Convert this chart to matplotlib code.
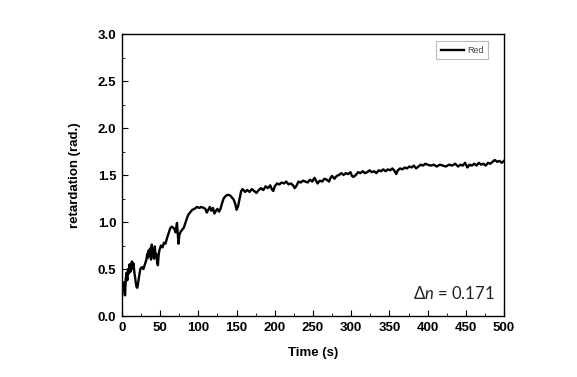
import matplotlib
matplotlib.use('Agg')
import matplotlib.pyplot as plt
from matplotlib.ticker import MultipleLocator

# retardation vs time
time_s = [0, 1, 2, 3, 4, 5, 6, 7, 8, 9, 10, 11, 12, 13, 14, 15, 16, 17, 18, 19,
          20, 21, 22, 24, 26, 28, 30, 32, 33, 34, 35, 36, 37, 38, 39, 40, 41, 42, 43, 44,
          45, 46, 47, 48, 49, 51, 53, 55, 57, 59, 61, 63, 65, 67, 69, 70, 71, 72, 73, 74,
          75, 77, 79, 81, 83, 85, 87, 89, 92, 95, 98, 101, 104, 107, 109, 111, 113, 115, 117, 119,
          121, 123, 125, 127, 129, 131, 133, 136, 139, 142, 144, 146, 148, 150, 152, 154, 156, 158, 161, 164,
          167, 170, 173, 176, 179, 182, 185, 188, 191, 194, 196, 198, 200, 203, 206, 209, 212, 215, 218, 221,
          224, 226, 228, 231, 234, 237, 240, 243, 246, 249, 252, 254, 256, 259, 262, 265, 268, 271, 273, 275,
          278, 281, 284, 287, 290, 293, 296, 299, 301, 303, 306, 309, 312, 315, 318, 321, 324, 327, 330, 333,
          336, 339, 342, 345, 348, 351, 354, 357, 359, 361, 364, 367, 370, 373, 376, 379, 382, 385, 388, 391,
          394, 397, 400, 404, 408, 412, 416, 420, 424, 428, 432, 436, 440, 443, 446, 449, 452, 455, 458, 461,
          464, 467, 470, 473, 476, 479, 482, 485, 488, 491, 494, 497, 500]
retard = [0.22, 0.33, 0.28, 0.36, 0.22, 0.40, 0.46, 0.38, 0.50, 0.45, 0.55, 0.47, 0.52, 0.58, 0.50, 0.56, 0.48, 0.42, 0.36, 0.31,
          0.30, 0.34, 0.40, 0.50, 0.52, 0.50, 0.55, 0.60, 0.66, 0.62, 0.70, 0.64, 0.72, 0.60, 0.76, 0.63, 0.70, 0.61, 0.74, 0.64,
          0.66, 0.57, 0.54, 0.65, 0.70, 0.75, 0.73, 0.78, 0.77, 0.83, 0.88, 0.93, 0.95, 0.94, 0.92, 0.89, 0.94, 0.99, 0.88, 0.77,
          0.86, 0.90, 0.92, 0.94, 0.99, 1.04, 1.08, 1.10, 1.13, 1.14, 1.16, 1.15, 1.16, 1.15, 1.14, 1.10, 1.13, 1.16, 1.12, 1.15,
          1.09, 1.12, 1.14, 1.11, 1.14, 1.20, 1.25, 1.28, 1.29, 1.28, 1.26, 1.24, 1.20, 1.13, 1.17, 1.25, 1.33, 1.35, 1.32, 1.34,
          1.32, 1.35, 1.33, 1.31, 1.34, 1.36, 1.34, 1.38, 1.36, 1.39, 1.35, 1.33, 1.38, 1.41, 1.40, 1.42, 1.41, 1.43, 1.40, 1.41,
          1.39, 1.36, 1.38, 1.43, 1.42, 1.44, 1.43, 1.42, 1.45, 1.43, 1.47, 1.44, 1.41, 1.44, 1.43, 1.46, 1.45, 1.43, 1.47, 1.49,
          1.46, 1.49, 1.50, 1.52, 1.50, 1.52, 1.51, 1.53, 1.49, 1.48, 1.50, 1.53, 1.52, 1.54, 1.52, 1.53, 1.55, 1.53, 1.54, 1.52,
          1.55, 1.54, 1.56, 1.54, 1.56, 1.55, 1.57, 1.54, 1.51, 1.55, 1.57, 1.56, 1.58, 1.57, 1.59, 1.58, 1.60, 1.57, 1.59, 1.61,
          1.60, 1.62, 1.61, 1.60, 1.61, 1.59, 1.61, 1.60, 1.59, 1.61, 1.60, 1.62, 1.59, 1.61, 1.60, 1.63, 1.58, 1.61, 1.60, 1.62,
          1.60, 1.63, 1.61, 1.62, 1.60, 1.63, 1.62, 1.64, 1.66, 1.64, 1.65, 1.63, 1.65]

plt.rcParams['font.family'] = ['Liberation Sans', 'DejaVu Sans']
plt.rcParams['mathtext.fontset'] = 'custom'
plt.rcParams['mathtext.rm'] = 'Lato'
plt.rcParams['mathtext.it'] = 'Lato:italic'

fig = plt.figure(figsize=(5.77, 3.77), dpi=100)
ax = fig.add_axes([0.2114, 0.1618, 0.6621, 0.748])

ax.plot(time_s, retard, color='black', lw=1.7, label='Red')

ax.set_xlim(0, 500)
ax.set_ylim(0, 3.0)
ax.xaxis.set_major_locator(MultipleLocator(50))
ax.xaxis.set_minor_locator(MultipleLocator(25))
ax.yaxis.set_minor_locator(MultipleLocator(0.25))
ax.set_yticks([0, 0.5, 1.0, 1.5, 2.0, 2.5, 3.0])
ax.set_yticklabels(['0.0', '0.5', '1.0', '1.5', '2.0', '2.5', '3.0'])
ax.tick_params(which='both', direction='in', top=False, right=False)
ax.tick_params(which='major', length=4, labelsize=9.5, pad=4)
ax.tick_params(which='minor', length=2)
for lab in ax.get_xticklabels() + ax.get_yticklabels():
    lab.set_fontweight('bold')
for s in ax.spines.values():
    s.set_linewidth(1.0)

ax.set_xlabel('Time (s)', fontsize=9.5, fontweight='bold', labelpad=10)
ax.set_ylabel('retardation (rad.)', fontsize=9.5, fontweight='bold', labelpad=12)

leg = ax.legend(loc='upper right', fontsize=6.5, handlelength=2.6, frameon=True,
                fancybox=False, borderpad=0.5, handletextpad=0.3,
                bbox_to_anchor=(0.97, 0.99))
leg.get_frame().set_edgecolor('#aaaaaa')
leg.get_frame().set_linewidth(0.8)
for t in leg.get_texts():
    t.set_color('#444444')

ax.text(0.975, 0.08, r'$\Delta\mathit{n}$ = 0.171', transform=ax.transAxes,
        ha='right', va='center', fontsize=12, family='Lato', color='#222222')

fig.savefig('out.png', dpi=100)
